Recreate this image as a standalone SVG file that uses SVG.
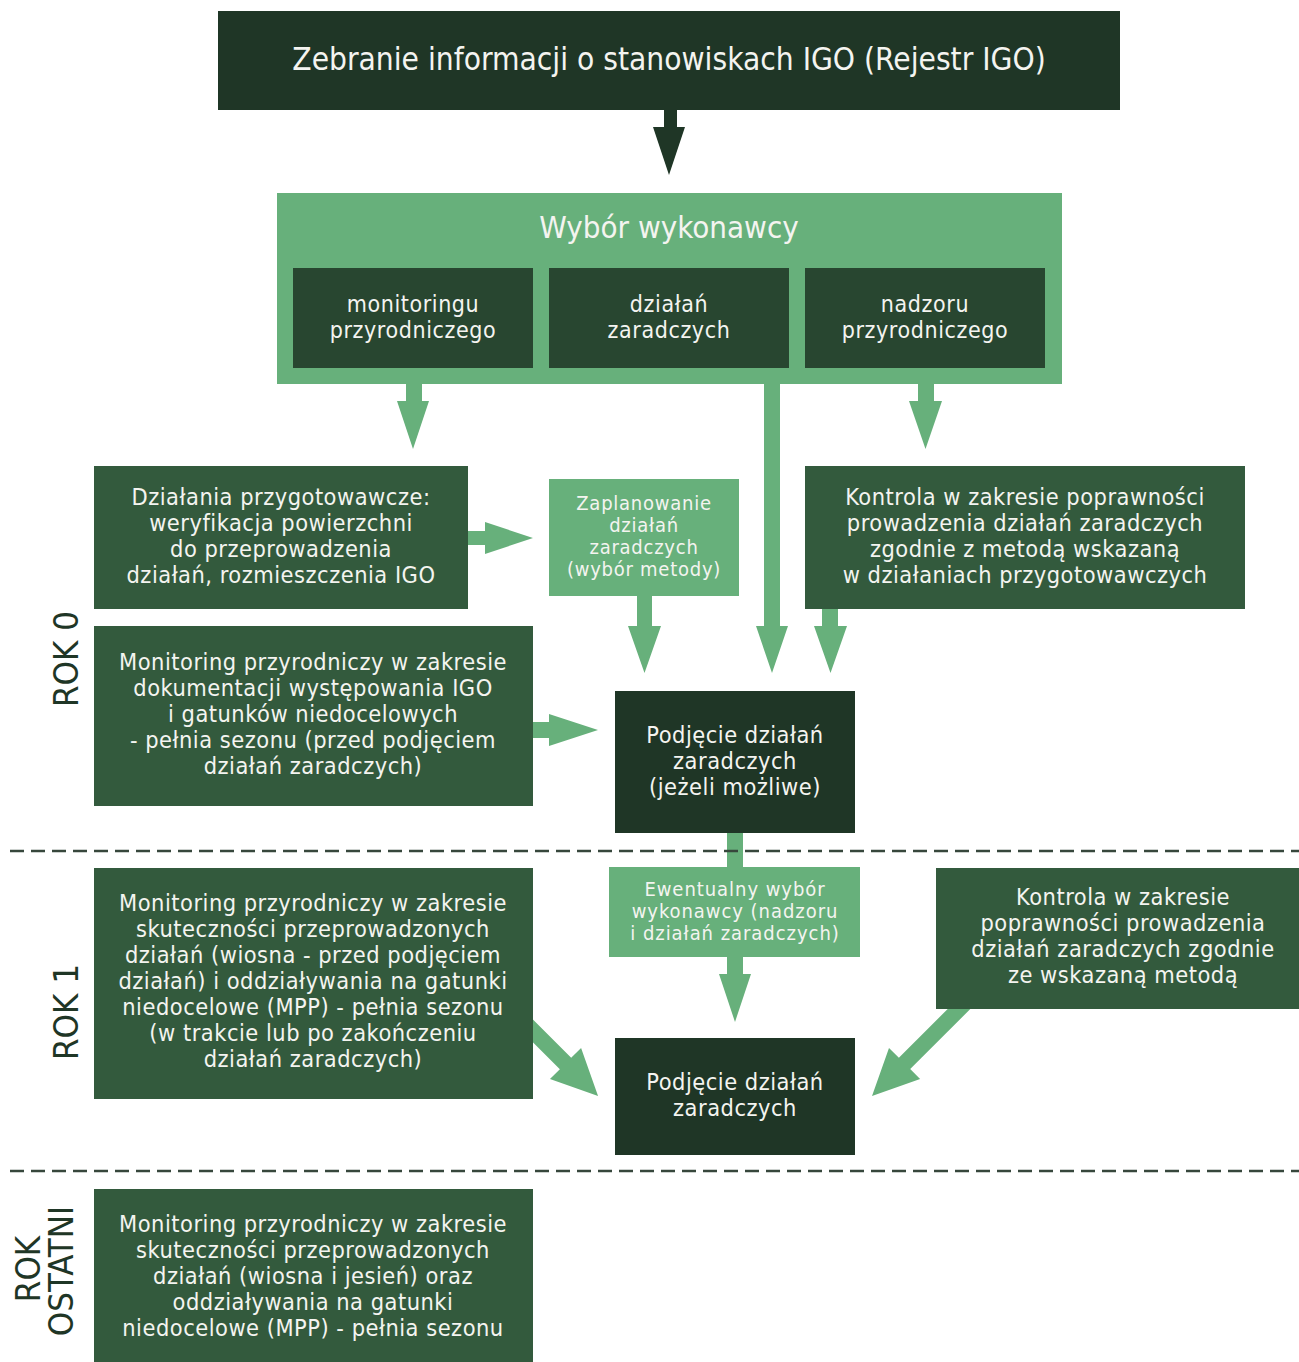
<svg xmlns="http://www.w3.org/2000/svg" width="1299" height="1362" viewBox="0 0 1299 1362">
<style>
  text { font-family: "DejaVu Sans Condensed", "DejaVu Sans", sans-serif; fill: #f4f4f0; text-anchor: middle; }
  .dk { fill: #1f3626; }
  .sub { fill: #284630; }
  .md { fill: #335a3d; }
  .lt { fill: #67b07b; }
  .t31 { font-size: 31.4px; }
  .t30 { font-size: 31px; }
  .t23 { font-size: 23px; letter-spacing: 0.6px; }
  .t24 { font-size: 23.4px; letter-spacing: 0.5px; }
  .t21 { font-size: 20px; letter-spacing: 0.75px; }
  .t22 { font-size: 20px; letter-spacing: 0.95px; }
  .side { font-size: 34.5px; fill: #1f3626; }
  .dash { stroke: #37473c; stroke-width: 2.5; stroke-dasharray: 14 7; fill: none; }
  .ga { fill: #67b07b; }
  .da { fill: #1f3626; }
</style>

<g id="connectors">
  <polygon class="da" points="664,109 677,109 677,127 685,127 669,175 653,127 664,127"/>
  <polygon class="ga" points="406,383 422,383 422,401 429,401 413,449 397,401 406,401"/>
  <polygon class="ga" points="918,383 934,383 934,401 942,401 925.5,449 909,401 918,401"/>
  <polygon class="ga" points="764,383 780,383 780,626 788,626 772,673 756,626 764,626"/>
  <polygon class="ga" points="637,595 652,595 652,626 661,626 644.5,673 628,626 637,626"/>
  <polygon class="ga" points="822,608 838,608 838,626 847,626 830.5,673 814,626 822,626"/>
  <polygon class="ga" points="467,531 485,531 485,522 533,538 485,554 485,545 467,545"/>
  <polygon class="ga" points="532,722 549,722 549,714 598,730 549,746 549,738 532,738"/>
  <rect class="ga" x="727" y="832" width="16" height="36"/>
  <polygon class="ga" points="727,956 743,956 743,974 751,974 735,1022 719,974 727,974"/>
  <polygon class="ga" transform="translate(533,1031) rotate(45)" points="-12,-8 46,-8 46,-22 92,0 46,22 46,8 -12,8"/>
  <polygon class="ga" transform="translate(959,1009) rotate(135)" points="-15,-8 77,-8 77,-22 123,0 77,22 77,8 -15,8"/>
</g>

<g id="dividers">
  <line class="dash" x1="10" y1="851" x2="1299" y2="851"/>
  <line class="dash" x1="10" y1="1171" x2="1299" y2="1171"/>
</g>

<g id="labels">
  <text class="side" transform="translate(78,659) rotate(-90)">ROK 0</text>
  <text class="side" transform="translate(78,1012) rotate(-90)">ROK 1</text>
  <text class="side" transform="translate(40,1269) rotate(-90)">ROK</text>
  <text class="side" transform="translate(73,1271) rotate(-90)">OSTATNI</text>
</g>

<g id="node-rejestr">
  <rect class="dk" x="218" y="11" width="902" height="99"/>
  <text class="t31" x="669" y="70">Zebranie informacji o stanowiskach IGO (Rejestr IGO)</text>
</g>

<g id="node-wybor">
  <rect class="lt" x="277" y="193" width="785" height="191"/>
  <text class="t30" x="669" y="238">Wybór wykonawcy</text>
</g>

<g id="node-wybor-monitoring">
  <rect class="sub" x="293" y="268" width="240" height="100"/>
  <text class="t23" x="413" y="312">monitoringu</text>
  <text class="t23" x="413" y="338">przyrodniczego</text>
</g>

<g id="node-wybor-dzialan">
  <rect class="sub" x="549" y="268" width="240" height="100"/>
  <text class="t23" x="669" y="312">działań</text>
  <text class="t23" x="669" y="338">zaradczych</text>
</g>

<g id="node-wybor-nadzoru">
  <rect class="sub" x="805" y="268" width="240" height="100"/>
  <text class="t23" x="925" y="312">nadzoru</text>
  <text class="t23" x="925" y="338">przyrodniczego</text>
</g>

<g id="node-przygotowawcze">
  <rect class="md" x="94" y="466" width="374" height="143"/>
  <text class="t24" x="281" y="505">Działania przygotowawcze:</text>
  <text class="t24" x="281" y="531">weryfikacja powierzchni</text>
  <text class="t24" x="281" y="557">do przeprowadzenia</text>
  <text class="t24" x="281" y="583">działań, rozmieszczenia IGO</text>
</g>

<g id="node-zaplanowanie">
  <rect class="lt" x="549" y="479" width="190" height="117"/>
  <text class="t21" x="644" y="510">Zaplanowanie</text>
  <text class="t21" x="644" y="532">działań</text>
  <text class="t21" x="644" y="554">zaradczych</text>
  <text class="t21" x="644" y="576">(wybór metody)</text>
</g>

<g id="node-kontrola-0">
  <rect class="md" x="805" y="466" width="440" height="143"/>
  <text class="t24" x="1025" y="505">Kontrola w zakresie poprawności</text>
  <text class="t24" x="1025" y="531">prowadzenia działań zaradczych</text>
  <text class="t24" x="1025" y="557">zgodnie z metodą wskazaną</text>
  <text class="t24" x="1025" y="583">w działaniach przygotowawczych</text>
</g>

<g id="node-monitoring-0">
  <rect class="md" x="94" y="626" width="439" height="180"/>
  <text class="t24" x="313" y="670">Monitoring przyrodniczy w zakresie</text>
  <text class="t24" x="313" y="696">dokumentacji występowania IGO</text>
  <text class="t24" x="313" y="722">i gatunków niedocelowych</text>
  <text class="t24" x="313" y="748">- pełnia sezonu (przed podjęciem</text>
  <text class="t24" x="313" y="774">działań zaradczych)</text>
</g>

<g id="node-podjecie-0">
  <rect class="dk" x="615" y="691" width="240" height="142"/>
  <text class="t24" x="735" y="743">Podjęcie działań</text>
  <text class="t24" x="735" y="769">zaradczych</text>
  <text class="t24" x="735" y="795">(jeżeli możliwe)</text>
</g>

<g id="node-ewentualny">
  <rect class="lt" x="609" y="867" width="251" height="90"/>
  <text class="t22" x="735" y="896">Ewentualny wybór</text>
  <text class="t22" x="735" y="918">wykonawcy (nadzoru</text>
  <text class="t22" x="735" y="940">i działań zaradczych)</text>
</g>

<g id="node-monitoring-1">
  <rect class="md" x="94" y="868" width="439" height="231"/>
  <text class="t24" x="313" y="911">Monitoring przyrodniczy w zakresie</text>
  <text class="t24" x="313" y="937">skuteczności przeprowadzonych</text>
  <text class="t24" x="313" y="963">działań (wiosna - przed podjęciem</text>
  <text class="t24" x="313" y="989">działań) i oddziaływania na gatunki</text>
  <text class="t24" x="313" y="1015">niedocelowe (MPP) - pełnia sezonu</text>
  <text class="t24" x="313" y="1041">(w trakcie lub po zakończeniu</text>
  <text class="t24" x="313" y="1067">działań zaradczych)</text>
</g>

<g id="node-kontrola-1">
  <rect class="md" x="936" y="868" width="363" height="141"/>
  <text class="t24" x="1123" y="905">Kontrola w zakresie</text>
  <text class="t24" x="1123" y="931">poprawności prowadzenia</text>
  <text class="t24" x="1123" y="957">działań zaradczych zgodnie</text>
  <text class="t24" x="1123" y="983">ze wskazaną metodą</text>
</g>

<g id="node-podjecie-1">
  <rect class="dk" x="615" y="1038" width="240" height="117"/>
  <text class="t24" x="735" y="1090">Podjęcie działań</text>
  <text class="t24" x="735" y="1116">zaradczych</text>
</g>

<g id="node-monitoring-ostatni">
  <rect class="md" x="94" y="1189" width="439" height="173"/>
  <text class="t24" x="313" y="1232">Monitoring przyrodniczy w zakresie</text>
  <text class="t24" x="313" y="1258">skuteczności przeprowadzonych</text>
  <text class="t24" x="313" y="1284">działań (wiosna i jesień) oraz</text>
  <text class="t24" x="313" y="1310">oddziaływania na gatunki</text>
  <text class="t24" x="313" y="1336">niedocelowe (MPP) - pełnia sezonu</text>
</g>
</svg>
